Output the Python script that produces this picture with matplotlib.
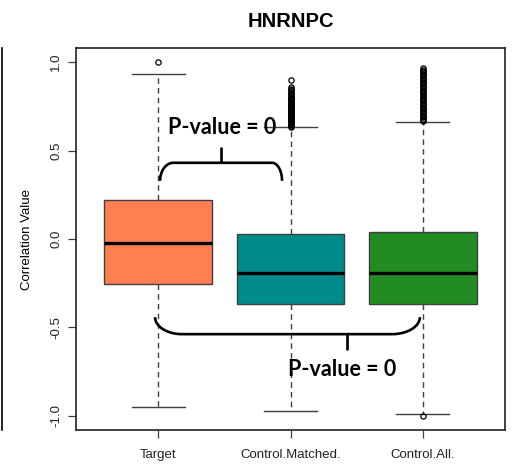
import matplotlib
matplotlib.use("Agg")
import matplotlib.pyplot as plt
from matplotlib.lines import Line2D
import numpy as np

# per-group box statistics (correlation values)
groups = ["Target", "Control.Matched.", "Control.All."]
box_colors = ["#FF7F50", "#008B8B", "#228B22"]
q1 = [-0.254, -0.367, -0.367]
medians = [-0.023, -0.19, -0.19]
q3 = [0.22, 0.028, 0.04]
whisker_lo = [-0.949, -0.97, -0.99]
whisker_hi = [0.932, 0.633, 0.66]
fliers_target = [1.0]
fliers_matched = [0.897, 0.857, 0.850, 0.843, 0.835, 0.825, 0.818, 0.812,
                  0.805, 0.80, 0.795, 0.79, 0.785, 0.78, 0.775, 0.77, 0.765,
                  0.76, 0.755, 0.75, 0.745, 0.74, 0.735, 0.73, 0.725, 0.72,
                  0.715, 0.71, 0.705, 0.70, 0.695, 0.69, 0.685, 0.68, 0.675,
                  0.67, 0.665, 0.66, 0.655, 0.65, 0.645, 0.64, 0.635]
fliers_all = [0.965, 0.958, 0.95, 0.943, 0.935, 0.928, 0.92, 0.913, 0.905,
              0.898, 0.89, 0.883, 0.875, 0.868, 0.86, 0.853, 0.845, 0.838,
              0.83, 0.823, 0.815, 0.808, 0.80, 0.793, 0.785, 0.778, 0.77,
              0.763, 0.755, 0.748, 0.74, 0.733, 0.725, 0.718, 0.71, 0.703,
              0.695, 0.688, 0.68, 0.673, 0.665, -1.0]
fliers = [fliers_target, fliers_matched, fliers_all]
pvalue_text = "P-value = 0"

fig = plt.figure(figsize=(5.15, 4.68), dpi=100)
ax = fig.add_axes([0.1476, 0.0812, 0.833, 0.8162])

stats = []
for i, g in enumerate(groups):
    stats.append(dict(label=g, q1=q1[i], med=medians[i], q3=q3[i],
                      whislo=whisker_lo[i], whishi=whisker_hi[i],
                      fliers=fliers[i]))

edge = "#404040"
bp = ax.bxp(stats, positions=[1, 2, 3], widths=0.81, patch_artist=True,
            capwidths=0.4,
            boxprops=dict(edgecolor=edge, linewidth=1.0),
            whiskerprops=dict(color=edge, linewidth=1.0, linestyle=(0, (4, 3))),
            capprops=dict(color=edge, linewidth=1.0),
            medianprops=dict(color="black", linewidth=2.4, solid_capstyle="butt"),
            flierprops=dict(marker="o", markerfacecolor="none",
                            markeredgecolor="black", markersize=3.8,
                            markeredgewidth=0.9))
for patch, c in zip(bp["boxes"], box_colors):
    patch.set_facecolor(c)


def bracket(ax, x0, x1, y_end, y_bar, rx0, rx1, tick_x, tick_y):
    # arc, straight bar, arc, plus a centre tick
    t = np.linspace(0, np.pi / 2, 30)
    ry = y_bar - y_end
    xl = (x0 + rx0) - rx0 * np.cos(t)
    yl = y_end + ry * np.sin(t)
    xr = (x1 - rx1) + rx1 * np.cos(t[::-1])
    yr = y_end + ry * np.sin(t[::-1])
    xs = np.concatenate([xl, xr])
    ys = np.concatenate([yl, yr])
    ax.plot(xs, ys, color="black", lw=1.9, solid_capstyle="butt")
    ax.plot([tick_x, tick_x], [y_bar, tick_y], color="black", lw=1.9,
            solid_capstyle="butt")


bracket(ax, 1.015, 1.936, 0.329, 0.431, 0.10, 0.076, 1.475, 0.521)
bracket(ax, 0.977, 2.977, -0.442, -0.538, 0.204, 0.211, 2.426, -0.629)

ax.text(1.487, 0.629, pvalue_text, ha="center", va="center",
        fontsize=15.5, fontweight="bold", family="Lato")
ax.text(2.392, -0.737, pvalue_text, ha="center", va="center",
        fontsize=15.5, fontweight="bold", family="Lato")

ax.set_xlim(0.38, 3.62)
ax.set_ylim(-1.08, 1.08)
ax.set_yticks([-1.0, -0.5, 0.0, 0.5, 1.0])
ax.set_yticklabels(["-1.0", "-0.5", "0.0", "0.5", "1.0"], rotation=90,
                   va="center", family="Liberation Sans", fontsize=9.5,
                   color="#222222")
ax.set_xticks([1, 2, 3])
ax.set_xticklabels(groups, family="Liberation Sans", fontsize=9.5,
                   color="#222222")
ax.tick_params(axis="y", length=6, width=0.9, color="#404040", pad=4)
ax.tick_params(axis="x", length=6, width=0.9, color="#404040", pad=8)
for s in ax.spines.values():
    s.set_linewidth(1.2)
    s.set_color("#222222")

ax.set_ylabel("Correlation Value", family="Liberation Sans", fontsize=9.5,
              labelpad=12)
ax.set_title("HNRNPC", family="Liberation Sans", fontweight="bold",
             fontsize=14.5, pad=15)

# edge of the neighbouring panel
fig.add_artist(Line2D([0.003, 0.003], [0.0812, 0.8974], color="black",
                      lw=1.2, transform=fig.transFigure))

fig.savefig("out.png", dpi=100)
